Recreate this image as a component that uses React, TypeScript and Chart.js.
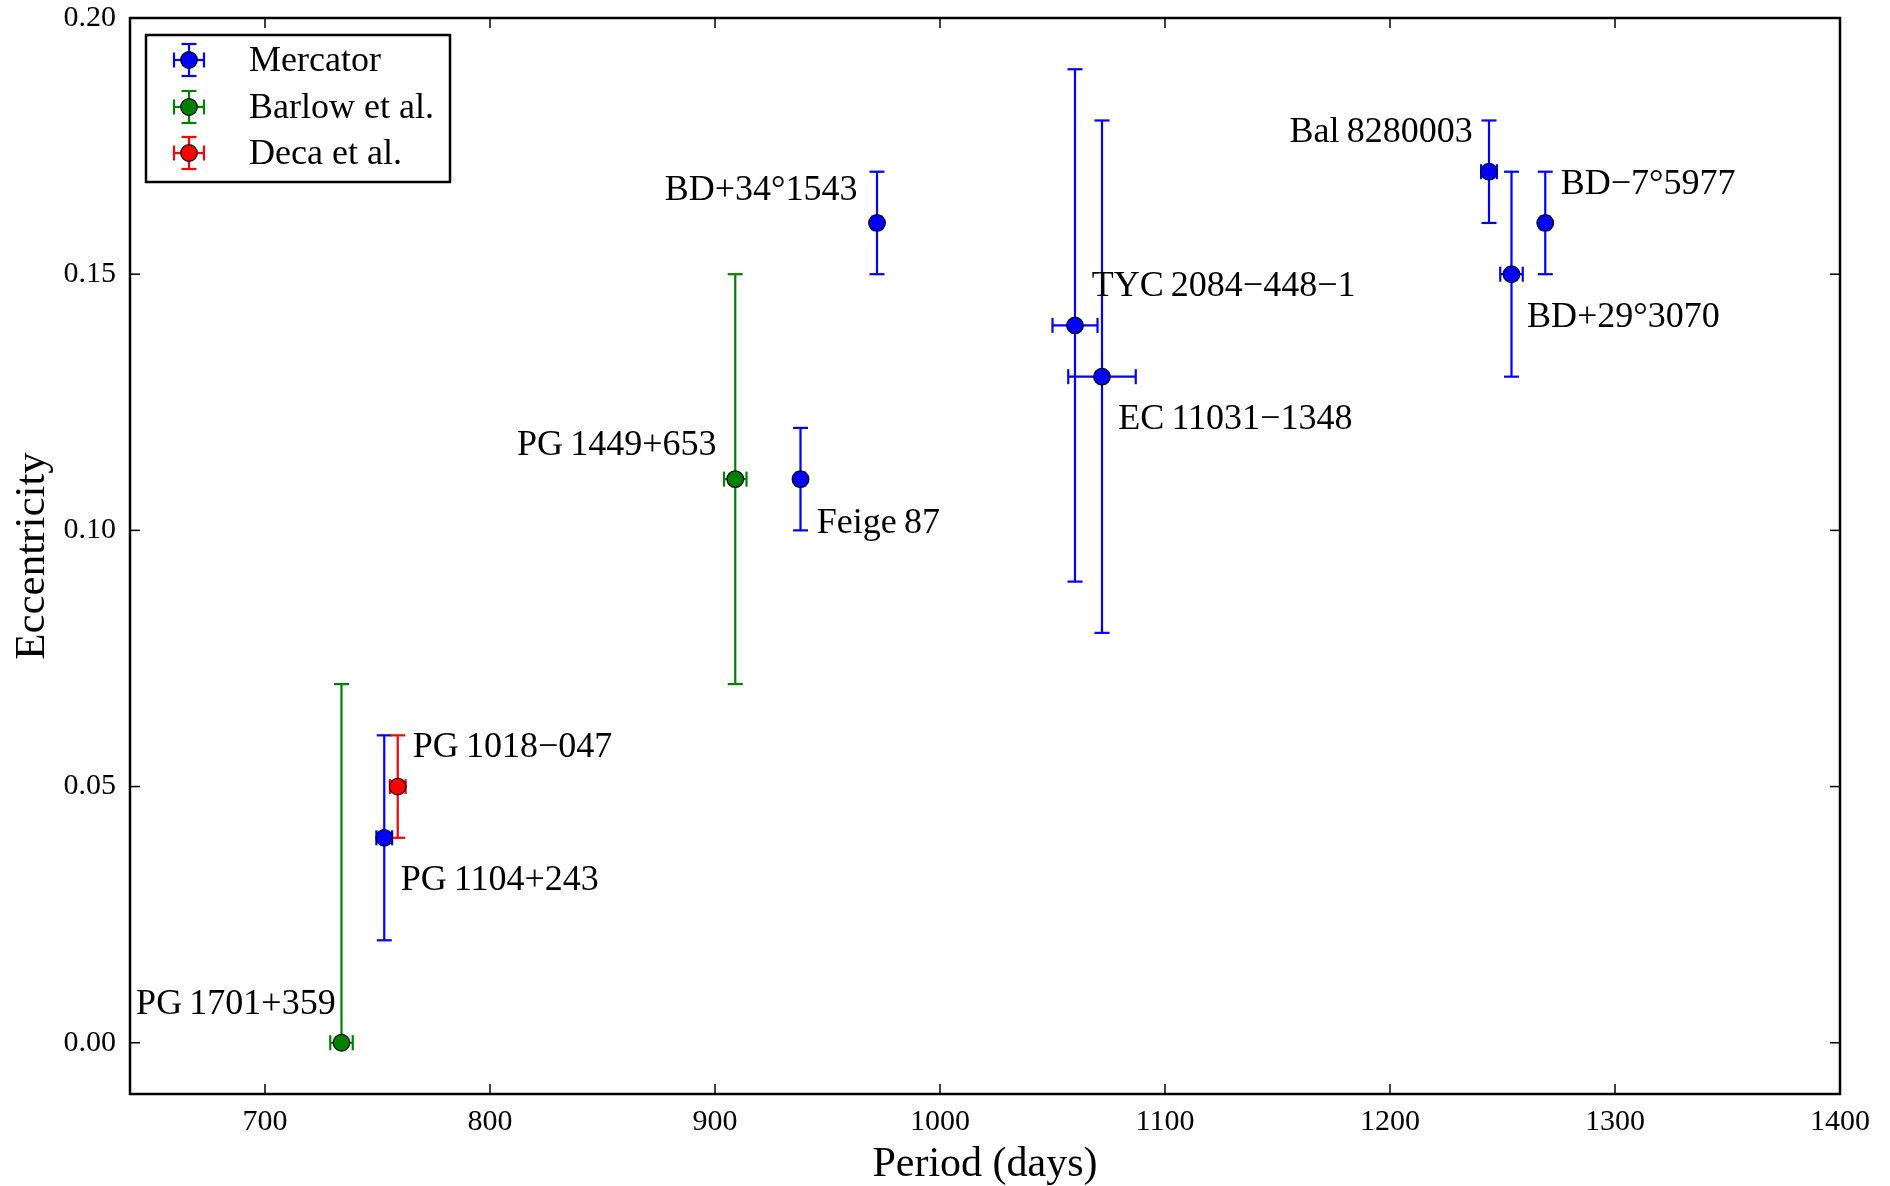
import React, { useEffect, useRef } from 'react';
import { Chart, registerables } from 'chart.js';

Chart.register(...registerables);

const FONT = '"Liberation Serif", "DejaVu Serif", "Times New Roman", serif';

// Axis configuration
const xTicks = [700, 800, 900, 1000, 1100, 1200, 1300, 1400];
const yTicks = [0.0, 0.05, 0.1, 0.15, 0.2];
const X_MIN = 640;
const X_MAX = 1400;
const Y_MIN = -0.01;
const Y_MAX = 0.2;

// Series meta
const seriesNames = ['Mercator', 'Barlow et al.', 'Deca et al.'];
const seriesColors = ['#0000ff', '#008000', '#ff0000'];

// Mercator
const mercatorPeriod = [753, 972, 938, 1060, 1072, 1244, 1254, 1269];
const mercatorPeriodErr = [3.5, 2, 2, 10, 15, 3.5, 5, 2];
const mercatorEcc = [0.04, 0.16, 0.11, 0.14, 0.13, 0.17, 0.15, 0.16];
const mercatorEccErrLow = [0.02, 0.01, 0.01, 0.05, 0.05, 0.01, 0.02, 0.01];
const mercatorEccErrHigh = [0.02, 0.01, 0.01, 0.05, 0.05, 0.01, 0.02, 0.01];

// Barlow et al.
const barlowPeriod = [734, 909];
const barlowPeriodErr = [5, 5];
const barlowEcc = [0.0, 0.11];
const barlowEccErrLow = [0.0, 0.04];
const barlowEccErrHigh = [0.07, 0.04];

// Deca et al.
const decaPeriod = [759];
const decaPeriodErr = [3.5];
const decaEcc = [0.05];
const decaEccErrLow = [0.01];
const decaEccErrHigh = [0.01];

// Star labels (anchor in data coordinates)
const labelTexts = [
  'PG\u20091701+359',
  'PG\u20091104+243',
  'PG\u20091018\u2212047',
  'PG\u20091449+653',
  'Feige\u200987',
  'BD+34°1543',
  'TYC\u20092084\u2212448\u22121',
  'EC\u200911031\u22121348',
  'Bal\u20098280003',
  'BD\u22127°5977',
  'BD+29°3070',
];
const labelX = [731.4, 760.3, 765.7, 900.7, 945.2, 963.3, 1067.4, 1079.2, 1236.8, 1275.9, 1260.9];
const labelY = [0.0075, 0.0317, 0.0576, 0.1165, 0.1014, 0.1663, 0.1475, 0.1216, 0.1776, 0.1675, 0.1416];
const labelAlign = ['right', 'left', 'left', 'right', 'left', 'right', 'left', 'left', 'right', 'left', 'left'];

const series = [
  { period: mercatorPeriod, periodErr: mercatorPeriodErr, ecc: mercatorEcc, lo: mercatorEccErrLow, hi: mercatorEccErrHigh },
  { period: barlowPeriod, periodErr: barlowPeriodErr, ecc: barlowEcc, lo: barlowEccErrLow, hi: barlowEccErrHigh },
  { period: decaPeriod, periodErr: decaPeriodErr, ecc: decaEcc, lo: decaEccErrLow, hi: decaEccErrHigh },
];

const CAP = 7.5;
const MARKER_R = 8.3;

function seg(ctx: CanvasRenderingContext2D, x1: number, y1: number, x2: number, y2: number) {
  ctx.beginPath();
  ctx.moveTo(x1, y1);
  ctx.lineTo(x2, y2);
  ctx.stroke();
}

const errorBarPlugin = {
  id: 'errorBars',
  beforeDatasetsDraw(chart: any) {
    const { ctx, chartArea, scales } = chart;
    const xs = scales.x;
    const ys = scales.y;
    ctx.save();
    ctx.beginPath();
    ctx.rect(chartArea.left, chartArea.top, chartArea.right - chartArea.left, chartArea.bottom - chartArea.top);
    ctx.clip();
    ctx.lineWidth = 2.2;
    series.forEach((s, si) => {
      ctx.strokeStyle = seriesColors[si];
      s.period.forEach((p, i) => {
        const px = xs.getPixelForValue(p);
        const py = ys.getPixelForValue(s.ecc[i]);
        const yTop = ys.getPixelForValue(s.ecc[i] + s.hi[i]);
        const yBot = ys.getPixelForValue(s.ecc[i] - s.lo[i]);
        seg(ctx, px, yTop, px, yBot);
        if (s.hi[i] > 0) seg(ctx, px - CAP, yTop, px + CAP, yTop);
        if (s.lo[i] > 0) seg(ctx, px - CAP, yBot, px + CAP, yBot);
        const xl = xs.getPixelForValue(p - s.periodErr[i]);
        const xr = xs.getPixelForValue(p + s.periodErr[i]);
        seg(ctx, xl, py, xr, py);
        seg(ctx, xl, py - CAP, xl, py + CAP);
        seg(ctx, xr, py - CAP, xr, py + CAP);
      });
    });
    ctx.restore();
  },
  afterDatasetsDraw(chart: any) {
    const { ctx, scales } = chart;
    const xs = scales.x;
    const ys = scales.y;
    ctx.save();
    ctx.fillStyle = '#000';
    ctx.font = `36px ${FONT}`;
    ctx.textBaseline = 'middle';
    labelTexts.forEach((t, i) => {
      ctx.textAlign = labelAlign[i] as CanvasTextAlign;
      ctx.fillText(t, xs.getPixelForValue(labelX[i]), ys.getPixelForValue(labelY[i]));
    });
    ctx.restore();
  },
  afterDraw(chart: any) {
    const { ctx, chartArea, scales } = chart;
    const xs = scales.x;
    const ys = scales.y;
    const { left, right, top, bottom } = chartArea;
    ctx.save();
    // inward ticks on all sides
    ctx.strokeStyle = '#000';
    ctx.lineWidth = 1.5;
    const TL = 10;
    xTicks.forEach((v) => {
      const px = xs.getPixelForValue(v);
      seg(ctx, px, bottom, px, bottom - TL);
      seg(ctx, px, top, px, top + TL);
    });
    yTicks.forEach((v) => {
      const py = ys.getPixelForValue(v);
      seg(ctx, left, py, left + TL, py);
      seg(ctx, right, py, right - TL, py);
    });
    // frame
    ctx.lineWidth = 2.5;
    ctx.strokeRect(left, top, right - left, bottom - top);

    // legend
    const lx = 146;
    const ly = 35;
    const lw = 304;
    const lh = 147;
    ctx.fillStyle = '#fff';
    ctx.fillRect(lx, ly, lw, lh);
    ctx.lineWidth = 2.5;
    ctx.strokeStyle = '#000';
    ctx.strokeRect(lx, ly, lw, lh);
    const rowY = [60, 107, 153];
    seriesNames.forEach((name, i) => {
      const cx = 189;
      const cy = rowY[i];
      ctx.strokeStyle = seriesColors[i];
      ctx.lineWidth = 2.2;
      seg(ctx, cx - 15, cy, cx + 15, cy);
      seg(ctx, cx - 15, cy - CAP, cx - 15, cy + CAP);
      seg(ctx, cx + 15, cy - CAP, cx + 15, cy + CAP);
      seg(ctx, cx, cy - 16, cx, cy + 16);
      seg(ctx, cx - CAP, cy - 16, cx + CAP, cy - 16);
      seg(ctx, cx - CAP, cy + 16, cx + CAP, cy + 16);
      ctx.beginPath();
      ctx.arc(cx, cy, MARKER_R, 0, Math.PI * 2);
      ctx.fillStyle = seriesColors[i];
      ctx.fill();
      ctx.lineWidth = 1.2;
      ctx.strokeStyle = '#000';
      ctx.stroke();
      ctx.fillStyle = '#000';
      ctx.font = `36px ${FONT}`;
      ctx.textAlign = 'left';
      ctx.textBaseline = 'middle';
      ctx.fillText(name, 249, cy + 2);
    });
    ctx.restore();
  },
};

export default function App() {
  const ref = useRef<HTMLCanvasElement | null>(null);

  useEffect(() => {
    document.body.style.margin = '0';
    document.body.style.overflow = 'hidden';
    const canvas = ref.current;
    if (!canvas) return;
    const datasets = series.map((s, si) => ({
      label: seriesNames[si],
      data: s.period.map((p, i) => ({ x: p, y: s.ecc[i] })),
      backgroundColor: seriesColors[si],
      borderColor: '#000',
      borderWidth: 1.2,
      pointRadius: MARKER_R,
      pointHoverRadius: MARKER_R,
      order: si,
    }));
    const chart = new Chart(canvas, {
      type: 'scatter',
      data: { datasets },
      options: {
        responsive: false,
        devicePixelRatio: 1,
        animation: false,
        layout: { padding: { left: 0, right: 50, top: 18, bottom: 0 } },
        plugins: {
          legend: { display: false },
          tooltip: { enabled: false },
        },
        scales: {
          x: {
            type: 'linear',
            min: X_MIN,
            max: X_MAX,
            afterBuildTicks: (s: any) => {
              s.ticks = xTicks.map((v) => ({ value: v }));
            },
            afterFit: (s: any) => {
              s.height = 92;
              s.paddingLeft = 0;
              s.paddingRight = 0;
            },
            grid: { display: false, drawTicks: false },
            border: { display: false },
            ticks: {
              color: '#000',
              font: { family: FONT, size: 30 },
              padding: 10,
              maxRotation: 0,
              callback: (v: any) => String(v),
            },
            title: {
              display: true,
              text: 'Period (days)',
              color: '#000',
              font: { family: FONT, size: 42, lineHeight: 1.0 },
              padding: { top: 0, bottom: 0 },
            },
          },
          y: {
            type: 'linear',
            min: Y_MIN,
            max: Y_MAX,
            afterBuildTicks: (s: any) => {
              s.ticks = yTicks.map((v) => ({ value: v }));
            },
            afterFit: (s: any) => {
              s.width = 130;
              s.paddingTop = 0;
              s.paddingBottom = 0;
            },
            grid: { display: false, drawTicks: false },
            border: { display: false },
            ticks: {
              color: '#000',
              font: { family: FONT, size: 30 },
              padding: 14,
              callback: (v: any) => Number(v).toFixed(2),
            },
            title: {
              display: true,
              text: 'Eccentricity',
              color: '#000',
              font: { family: FONT, size: 43 },
              padding: { top: 7, bottom: 0 },
            },
          },
        },
      },
      plugins: [errorBarPlugin],
    } as any);
    return () => chart.destroy();
  }, []);

  return (
    <div style={{ width: 1890, height: 1186, background: '#fff' }}>
      <canvas ref={ref} width={1890} height={1186} style={{ display: 'block', width: 1890, height: 1186 }} />
    </div>
  );
}
